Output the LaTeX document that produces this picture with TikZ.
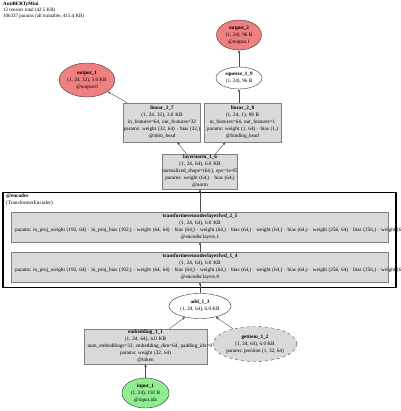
\documentclass[tikz,border=0pt]{standalone}
\usepackage{fontspec}
\setmainfont{Liberation Serif}
\usetikzlibrary{shapes.geometric, arrows.meta, positioning}
\definecolor{boxfill}{HTML}{D9D9D9}
\definecolor{boxline}{HTML}{7F7F7F}
\definecolor{outfill}{HTML}{F08080}
\definecolor{infill}{HTML}{90EE90}
\newcommand{\ovr}[1]{\makebox[0pt]{#1}}
\newcommand{\lft}[1]{\makebox[\linewidth][l]{\hspace*{3.5pt}#1}}
\frenchspacing

\begin{document}
\begin{tikzpicture}[x=1pt, y=-1pt,
    every node/.style={font=\fontsize{5.2}{7}\selectfont},
    layer/.style={rectangle, draw=boxline, fill=boxfill, inner sep=0pt, align=center},
    tensor/.style={ellipse, draw=black!80, inner sep=0pt, align=center},
    arrow/.style={-{Stealth[length=3pt, width=2.6pt]}, draw=black!70, line width=0.4pt},
]
\useasboundingbox (0,0) rectangle (400,411);

\node[anchor=north west, align=left, inner sep=0pt, font=\fontsize{5}{6}\selectfont] (title) at (3,1.5)
    {\textbf{AntiBERTyMini}\\12 tensors total (42.5 KB)\\106337 params (all trainable, 415.4 KB)};

\node[tensor, fill=outfill, minimum width=45pt, minimum height=30pt] (output2) at (239,35)
    {\textbf{output\_2}\\(1, 24), 96 B\\@output.1};
\node[tensor, fill=white, minimum width=46pt, minimum height=22pt] (squeeze19) at (239,78)
    {\textbf{squeeze\_1\_9}\\(1, 24), 96 B};
\node[tensor, fill=outfill, minimum width=48pt, minimum height=34pt] (output1) at (87,80)
    {\textbf{output\_1}\\(1, 24, 32), 3.0 KB\\@output.0};

\node[layer, text width=77pt, minimum height=39pt] (linear17) at (162,122.5)
    {\textbf{linear\_1\_7}\\(1, 24, 32), 3.0 KB\\\ovr{in\_features=64, out\_features=32}\\\ovr{params: weight (32, 64) · bias (32,)}\\@mlm\_head};
\node[layer, text width=77pt, minimum height=39pt] (linear28) at (242.5,122.5)
    {\textbf{linear\_2\_8}\\(1, 24, 1), 98 B\\\ovr{in\_features=64, out\_features=1}\\\ovr{params: weight (1, 64) · bias (1,)}\\@binding\_head};
\node[layer, text width=75pt, minimum height=35pt] (layernorm16) at (200,171.5)
    {\textbf{layernorm\_1\_6}\\(1, 24, 64), 6.0 KB\\\ovr{normalized\_shape=(64,), eps=1e-05}\\\ovr{params: weight (64,) · bias (64,)}\\@norm};

\node[draw=black, line width=1.6pt, minimum width=393pt, minimum height=95pt, inner sep=0pt] (encoder) at (199.5,240) {};
\node[anchor=north west, align=left, inner sep=0pt] (enclabel) at (6,193.5)
    {\textbf{@encoder}\\(TransformerEncoder)};

\node[layer, text width=377pt, minimum height=30pt] (layer25) at (200,227)
    {\textbf{transformerencoderlayerfwd\_2\_5}\\(1, 24, 64), 6.0 KB\\\lft{params: in\_proj\_weight (192, 64) · in\_proj\_bias (192,) · weight (64, 64) · bias (64,) · weight (64,) · bias (64,) · weight (64,) · bias (64,) · weight (256, 64) · bias (256,) · weight (64, 256) · bias (64,)}\\@encoder.layers.1};
\node[layer, text width=377pt, minimum height=30pt] (layer14) at (200,267)
    {\textbf{transformerencoderlayerfwd\_1\_4}\\(1, 24, 64), 6.0 KB\\\lft{params: in\_proj\_weight (192, 64) · in\_proj\_bias (192,) · weight (64, 64) · bias (64,) · weight (64,) · bias (64,) · weight (64,) · bias (64,) · weight (256, 64) · bias (256,) · weight (64, 256) · bias (64,)}\\@encoder.layers.0};

\node[tensor, fill=white, minimum width=62pt, minimum height=25pt] (add13) at (200,306)
    {\textbf{add\_1\_3}\\(1, 24, 64), 6.0 KB};
\node[layer, text width=123pt, minimum height=35pt] (embedding11) at (145.5,346.5)
    {\textbf{embedding\_1\_1}\\(1, 24, 64), 6.0 KB\\\lft{num\_embeddings=32, embedding\_dim=64, padding\_idx=0}\\params: weight (32, 64)\\@token};
\node[tensor, fill=boxfill, draw=black!70, dashed, minimum width=84pt, minimum height=35pt] (getitem12) at (255,344)
    {\textbf{getitem\_1\_2}\\(1, 24, 64), 6.0 KB\\params: position (1, 32, 64)};
\node[tensor, fill=infill, minimum width=47pt, minimum height=30pt] (input1) at (145.5,393)
    {\textbf{input\_1}\\(1, 24), 192 B\\@input.idx};

\draw[arrow] (input1) -- (embedding11);
\draw[arrow] (embedding11) -- (add13);
\draw[arrow] (getitem12) -- (add13);
\draw[arrow] (add13) -- (layer14);
\draw[arrow] (layer14) -- (layer25);
\draw[arrow] (layer25) -- (layernorm16);
\draw[arrow] (layernorm16) -- (linear17);
\draw[arrow] (layernorm16) -- (linear28);
\draw[arrow] (linear17) -- (output1);
\draw[arrow] (linear28.north -| squeeze19) -- (squeeze19);
\draw[arrow] (squeeze19) -- (output2);

\end{tikzpicture}
\end{document}
